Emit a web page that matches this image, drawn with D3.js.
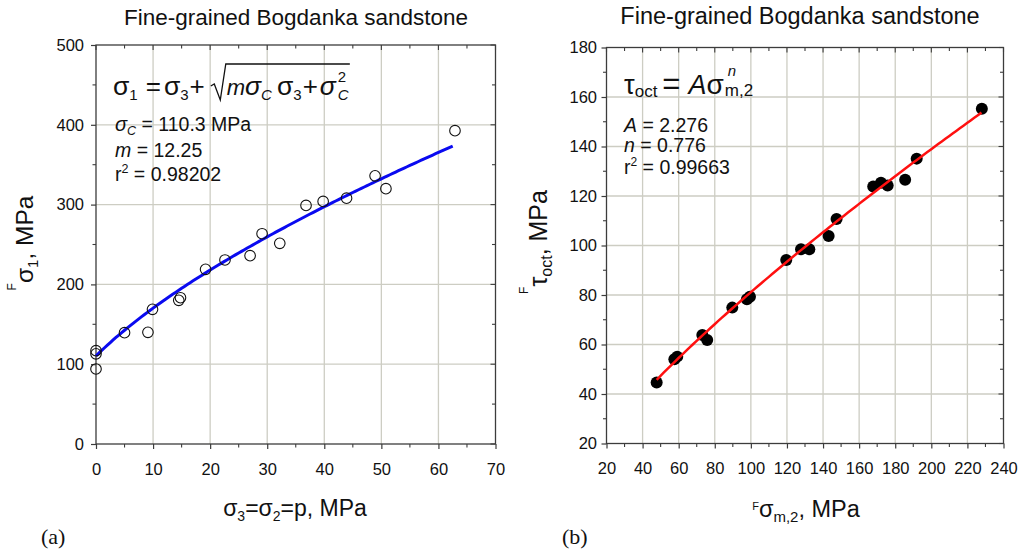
<!DOCTYPE html>
<html>
<head>
<meta charset="utf-8">
<script src="https://cdn.jsdelivr.net/npm/d3@7"></script>
<style>
  body { margin: 0; background: #fff; }
  svg { display: block; }
  text { font-family: "Liberation Sans", Arial, sans-serif; fill: #111; }
  .serif { font-family: "Liberation Serif", "Times New Roman", serif; }
</style>
</head>
<body>
<svg id="chart" width="1028" height="554"></svg>
<script>
// ---------- Panel (a): peak strength vs confining pressure ----------
const confiningA = [0, 0, 0, 5, 9.1, 9.9, 14.5, 14.8, 19.2, 22.6, 27.0, 29.1, 32.2, 36.8, 39.8, 43.9, 48.9, 50.8, 62.9];
const sigma1A    = [117, 113, 94, 139.5, 140, 168.8, 180, 183.3, 218.9, 230.6, 236, 263.5, 251.5, 299, 304, 308, 336, 320, 392.6];
const sigmaC = 110.3;      // fitted uniaxial strength, MPa
const mParam = 12.25;      // fitted material constant
const xTicksA = [0, 10, 20, 30, 40, 50, 60, 70];
const yTicksA = [0, 100, 200, 300, 400, 500];

// ---------- Panel (b): octahedral shear vs mean stress ----------
const sigmaM2B = [47.8, 57.6, 59.2, 73.1, 75.8, 89.7, 97.8, 99.5, 119.6, 127.8, 132.4, 143.1, 147.5, 167.8, 172.1, 175.8, 185.5, 191.9, 228.0];
const tauOctB  = [44.6, 54.0, 55.1, 63.8, 61.8, 74.9, 78.3, 79.3, 94.1, 98.5, 98.5, 103.8, 110.7, 123.8, 125.4, 124.2, 126.6, 135.1, 155.3];
const coefA = 2.276;       // power-law coefficient
const expN  = 0.776;       // power-law exponent
const xTicksB = [20, 40, 60, 80, 100, 120, 140, 160, 180, 200, 220, 240];
const yTicksB = [20, 40, 60, 80, 100, 120, 140, 160, 180];

const svg = d3.select("#chart");
const gridColor = "#cdcdc3";
const frameColor = "#3c3c3c";
const tickFont = 16.5;

function drawFrame(g, x, y, o) {
  const [x0, x1] = x.range(), [y0, y1] = y.range();

  // grid at interior major ticks
  g.append("g").selectAll("line").data(o.xTicks.slice(1, -1)).join("line")
    .attr("x1", d => x(d)).attr("x2", d => x(d)).attr("y1", y0).attr("y2", y1)
    .attr("stroke", gridColor).attr("stroke-width", 1.3);
  g.append("g").selectAll("line").data(o.yTicks.slice(1, -1)).join("line")
    .attr("y1", d => y(d)).attr("y2", d => y(d)).attr("x1", x0).attr("x2", x1)
    .attr("stroke", gridColor).attr("stroke-width", 1.3);

  // bottom / left axes with outward ticks and labels
  const bottom = d3.axisBottom(x).tickValues(o.xTicks).tickSize(5).tickPadding(o.xPad).tickFormat(d3.format("d"));
  const left = d3.axisLeft(y).tickValues(o.yTicks).tickSize(5).tickPadding(o.yPad).tickFormat(d3.format("d"));
  const gb = g.append("g").attr("transform", `translate(0,${y0})`).call(bottom);
  const gl = g.append("g").attr("transform", `translate(${x0},0)`).call(left);
  [gb, gl].forEach(a => {
    a.select(".domain").remove();
    a.selectAll(".tick line").attr("stroke", frameColor).attr("stroke-width", 1.2);
    a.selectAll("text").attr("font-size", tickFont).attr("font-family", "Liberation Sans, Arial, sans-serif").attr("fill", "#111");
  });

  // minor ticks outward on bottom/left
  g.append("g").selectAll("line").data(o.xMinor).join("line")
    .attr("x1", d => x(d)).attr("x2", d => x(d)).attr("y1", y0).attr("y2", y0 + 3.5)
    .attr("stroke", frameColor).attr("stroke-width", 1.1);
  g.append("g").selectAll("line").data(o.yMinor).join("line")
    .attr("y1", d => y(d)).attr("y2", d => y(d)).attr("x1", x0).attr("x2", x0 - 3.5)
    .attr("stroke", frameColor).attr("stroke-width", 1.1);

  // top / right mirrored ticks pointing inward
  const topVals = o.xTicks.concat(o.xMinor);
  g.append("g").selectAll("line").data(topVals).join("line")
    .attr("x1", d => x(d)).attr("x2", d => x(d)).attr("y1", y1)
    .attr("y2", d => y1 + (o.xTicks.includes(d) ? 5 : 3.5))
    .attr("stroke", frameColor).attr("stroke-width", 1.1);
  const rightVals = o.yTicks.concat(o.yMinor);
  g.append("g").selectAll("line").data(rightVals).join("line")
    .attr("y1", d => y(d)).attr("y2", d => y(d)).attr("x1", x1)
    .attr("x2", d => x1 - (o.yTicks.includes(d) ? 5 : 3.5))
    .attr("stroke", frameColor).attr("stroke-width", 1.1);

  // frame
  g.append("rect").attr("x", x0).attr("y", y1).attr("width", x1 - x0).attr("height", y0 - y1)
    .attr("fill", "none").attr("stroke", frameColor).attr("stroke-width", 1.3);
}

// inline rich text starting at (x, y); pieces: [text, size, shift, italic, dx]
// shift is the offset from the baseline (positive = lower)
function inlineText(parent, x, y, pieces, anchor) {
  const t = parent.append("text").attr("x", x).attr("y", y);
  if (anchor) t.attr("text-anchor", anchor);
  let cur = 0;
  pieces.forEach(p => {
    const shift = p[2] || 0;
    t.append("tspan").attr("font-size", p[1]).attr("dy", shift - cur)
      .attr("dx", p[4] || null)
      .attr("font-style", p[3] ? "italic" : null).text(p[0]);
    cur = shift;
  });
  return t;
}
const rightEdge = t => { const b = t.node().getBBox(); return b.x + b.width; };

// ================= Panel (a) =================
{
  const g = svg.append("g");
  const x = d3.scaleLinear([0, 70], [96, 495.5]);
  const y = d3.scaleLinear([0, 500], [444, 45]);
  drawFrame(g, x, y, {
    xTicks: xTicksA, yTicks: yTicksA,
    xMinor: d3.range(5, 70, 10), yMinor: d3.range(50, 500, 100),
    xPad: 14, yPad: 7
  });

  // fitted envelope sigma1 = sigma3 + sqrt(m*sigmaC*sigma3 + sigmaC^2)
  const s3 = d3.range(0, d3.max(confiningA) + 0.01, 0.5);
  const line = d3.line().x(d => x(d)).y(d => y(d + Math.sqrt(mParam * sigmaC * d + sigmaC * sigmaC)));
  g.append("path").datum(s3).attr("d", line)
    .attr("fill", "none").attr("stroke", "#0a0af0").attr("stroke-width", 3);

  g.append("g").selectAll("circle").data(confiningA).join("circle")
    .attr("cx", d => x(d)).attr("cy", (d, i) => y(sigma1A[i])).attr("r", 5.3)
    .attr("fill", "none").attr("stroke", "#111").attr("stroke-width", 1.1);

  g.append("text").attr("x", 296).attr("y", 24.5).attr("text-anchor", "middle")
    .attr("font-size", 22.5).text("Fine-grained Bogdanka sandstone");

  // equation: sigma1 = sigma3 + sqrt(m sigmaC sigma3 + sigmaC^2)
  const eqY = 95;
  const lhs = inlineText(g, 113, eqY, [
    ["σ", 26.5], ["1", 15, 5], ["=", 26, 0, false, 8], ["σ", 26.5, 0, false, 3], ["3", 15, 5], ["+", 26, 0, false, 1]
  ]);
  const rx = rightEdge(lhs) + 6;
  const inner = inlineText(g, rx + 16, eqY, [
    ["m", 22, 0, true], ["σ", 26.5, 0, true], ["C", 15, 5, true],
    ["σ", 26.5, 0, false, 5], ["3", 15, 5], ["+", 26, 0, false, 1], ["σ", 26.5, 0, true, 2]
  ]);
  const ix = rightEdge(inner);
  g.append("text").attr("x", ix + 1).attr("y", 81.5).attr("font-size", 15).text("2");
  g.append("text").attr("x", ix + 1).attr("y", 100).attr("font-size", 15).attr("font-style", "italic").text("C");
  const barEnd = ix + 13;
  g.append("path").attr("d", `M${rx},86 L${rx + 3.5},84 L${rx + 9.5},100 L${rx + 15},64 L${barEnd},64`)
    .attr("fill", "none").attr("stroke", "#111").attr("stroke-width", 1.3);

  // fit parameters
  inlineText(g, 115, 130.5, [["σ", 20, 0, true], ["C", 12.5, 4, true], [" = 110.3 MPa", 19.5, 0]]);
  inlineText(g, 115, 156.5, [["m", 19.5, 0, true], [" = 12.25", 19.5, 0]]);
  inlineText(g, 115, 181, [["r", 19.5], ["2", 12.5, -8], [" = 0.98202", 19.5, 0]]);

  // axis titles
  inlineText(g, 295, 516, [["σ", 23], ["3", 14, 5], ["=σ", 23, 0], ["2", 14, 5], ["=p, MPa", 23, 0]], "middle");
  inlineText(g, 0, 0, [["F", 12, -17], ["σ", 24.5, 0], ["1", 15, 5], [", MPa", 24.5, 0]], "middle")
    .attr("transform", "translate(33,243) rotate(-90)");

  g.append("text").attr("class", "serif").attr("x", 41).attr("y", 544)
    .attr("font-size", 22).text("(a)");
}

// ================= Panel (b) =================
{
  const g = svg.append("g");
  const x = d3.scaleLinear([20, 240], [606.5, 1003.5]);
  const y = d3.scaleLinear([20, 180], [443.5, 47.5]);
  drawFrame(g, x, y, {
    xTicks: xTicksB, yTicks: yTicksB,
    xMinor: d3.range(30, 240, 20), yMinor: d3.range(30, 180, 20),
    xPad: 14, yPad: 4.5
  });

  g.append("g").selectAll("circle").data(sigmaM2B).join("circle")
    .attr("cx", d => x(d)).attr("cy", (d, i) => y(tauOctB[i])).attr("r", 6)
    .attr("fill", "#000");

  // fitted power law tau_oct = A * sigma_m2^n
  const sm = d3.range(d3.min(sigmaM2B), d3.max(sigmaM2B) + 0.01, 2);
  const line = d3.line().x(d => x(d)).y(d => y(coefA * Math.pow(d, expN)));
  g.append("path").datum(sm).attr("d", line)
    .attr("fill", "none").attr("stroke", "#ff1010").attr("stroke-width", 2.5);

  g.append("text").attr("x", 800).attr("y", 24).attr("text-anchor", "middle")
    .attr("font-size", 23.5).text("Fine-grained Bogdanka sandstone");

  // equation: tau_oct = A sigma^n_(m,2)
  const eq = inlineText(g, 624, 93.5, [
    ["τ", 27], ["oct", 17, 3.5], ["=", 31, 0, false, 5], ["A", 27, 0, true, 8], ["σ", 28, 0]
  ]);
  const ex = rightEdge(eq);
  g.append("text").attr("x", ex + 4).attr("y", 76).attr("font-size", 15).attr("font-style", "italic").text("n");
  g.append("text").attr("x", ex + 1).attr("y", 96).attr("font-size", 17).text("m,2");

  // fit parameters
  inlineText(g, 624, 131.5, [["A", 19.5, 0, true], [" = 2.276", 19.5, 0]]);
  inlineText(g, 624, 152, [["n", 19.5, 0, true], [" = 0.776", 19.5, 0]]);
  inlineText(g, 624, 174, [["r", 19.5], ["2", 12, -8], [" = 0.99663", 19.5, 0]]);

  // axis titles
  inlineText(g, 806, 517, [["F", 11, -7], ["σ", 23.5, 0], ["m,2", 15, 5], [", MPa", 23.5, 0]], "middle");
  inlineText(g, 0, 0, [["F", 12, -19], ["τ", 25, 0], ["oct", 16, 5], [", MPa", 25, 0]], "middle")
    .attr("transform", "translate(547,242) rotate(-90)");

  g.append("text").attr("class", "serif").attr("x", 562).attr("y", 544)
    .attr("font-size", 22).text("(b)");
}
</script>
</body>
</html>
